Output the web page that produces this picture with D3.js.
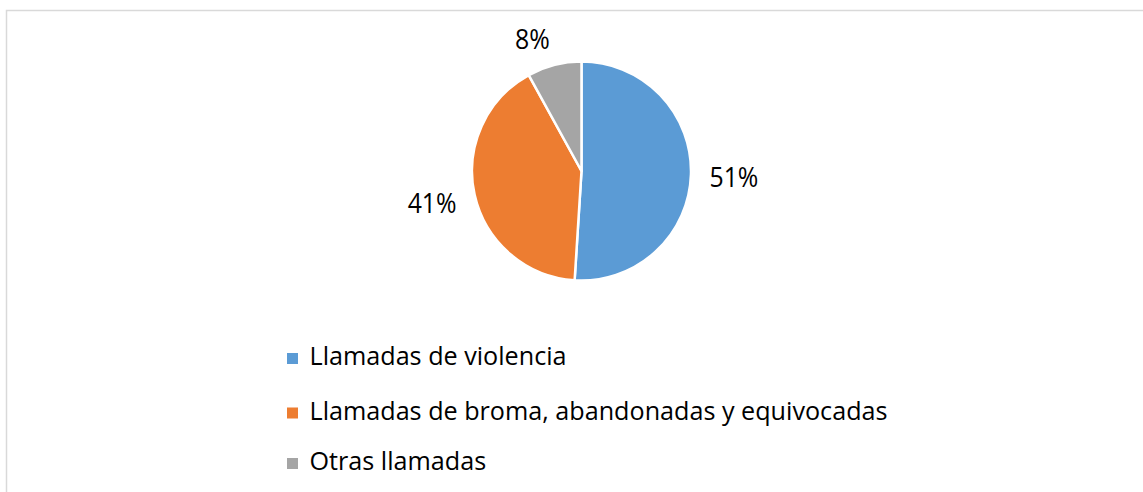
<!DOCTYPE html>
<html>
<head>
<meta charset="utf-8">
<script src="https://cdn.jsdelivr.net/npm/d3@7"></script>
<style>
  html, body { margin: 0; padding: 0; background: #fff; }
  svg { display: block; }
</style>
</head>
<body>
<svg id="chart" width="1143" height="492"></svg>
<script>
// ---- data ----
const categories = ["Llamadas de violencia", "Llamadas de broma, abandonadas y equivocadas", "Otras llamadas"];
const values = [51, 41, 8];
const labels = ["51%", "41%", "8%"];
const colors = ["#5B9BD5", "#ED7D31", "#A5A5A5"];

const svg = d3.select("#chart");
const W = 1143, H = 492;
const FONT = "'Open Sans', 'Noto Sans', sans-serif";

// frame (right/bottom edges fall outside the picture)
svg.append("rect")
  .attr("x", 6.5).attr("y", 10.5)
  .attr("width", W + 20).attr("height", H + 20)
  .attr("fill", "#fff").attr("stroke", "#d9d9d9").attr("stroke-width", 1.5);

const cx = 581.5, cy = 171, r = 109.5;
const g = svg.append("g").attr("transform", `translate(${cx},${cy})`);

const pie = d3.pie().sort(null).value(d => d)(values);
const arc = d3.arc().innerRadius(0).outerRadius(r);

g.selectAll("path.slice").data(pie).join("path")
  .attr("class", "slice")
  .attr("d", arc)
  .attr("fill", (d, i) => colors[i])
  .attr("stroke", "#fff")
  .attr("stroke-width", 2.5)
  .attr("stroke-linejoin", "round");

// data labels (outside end)
const labR = 128;
const labFont = 27;
const hScale = 0.92;
pie.forEach((d, i) => {
  const a = (d.startAngle + d.endAngle) / 2;
  const s = Math.sin(a), c = Math.cos(a);
  const px = s * labR, py = -c * labR;
  const anchor = s > 0.1 ? "start" : (s < -0.1 ? "end" : "middle");
  const centerY = py - c * 10 + 2;
  const t = g.append("text")
    .attr("x", px).attr("y", centerY + 9.5)
    .attr("text-anchor", anchor)
    .attr("font-family", FONT)
    .attr("font-size", labFont)
    .attr("fill", "#000")
    .text(labels[i]);
  const w = t.node().getComputedTextLength();
  t.attr("textLength", w * hScale).attr("lengthAdjust", "spacingAndGlyphs");
});

// legend
const legX = 287, legTextX = 309.5;
const legY = [353, 407.5, 458]; // square tops
const legFont = 25.5;
const leg = svg.append("g");
const texts = [];
categories.forEach((name, i) => {
  leg.append("rect")
    .attr("x", legX).attr("y", legY[i])
    .attr("width", 11).attr("height", 11)
    .attr("fill", colors[i]);
  const t = leg.append("text")
    .attr("x", legTextX).attr("y", legY[i] + 12)
    .attr("font-family", FONT)
    .attr("font-size", legFont)
    .attr("fill", "#000")
    .text(name);
  texts.push(t);
});
// compress horizontally to match the narrow original face
const longest = texts[1].node().getComputedTextLength();
const k = 578 / longest;
texts.forEach(t => {
  const w = t.node().getComputedTextLength();
  t.attr("textLength", w * k).attr("lengthAdjust", "spacingAndGlyphs");
});
</script>
</body>
</html>
